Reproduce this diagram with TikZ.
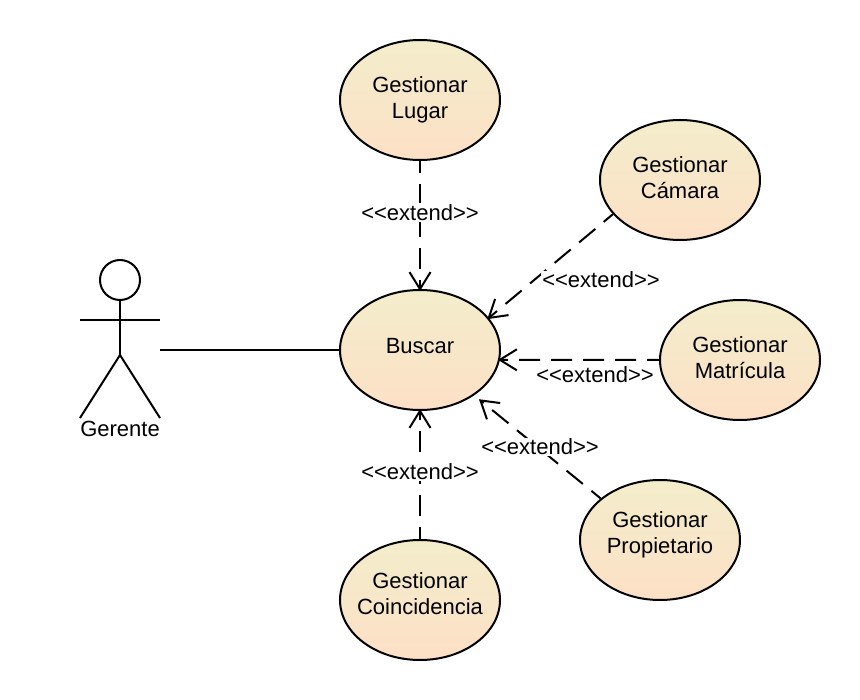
\documentclass[tikz,border=0pt]{standalone}
\usepackage{fontspec}
\setmainfont{Liberation Sans}
\usetikzlibrary{shapes.geometric,arrows.meta}
\tikzset{
	usecase/.style={ellipse, draw=black, line width=2pt, top color=caseTop, bottom color=caseBottom, minimum width=160pt, minimum height=120pt, inner xsep=-20pt, inner ysep=0pt, align=center, text depth=5pt, font=\fontsize{22}{26}\selectfont},
	actorline/.style={black, line width=2pt},
	extendline/.style={black, line width=2pt, dash pattern=on 21pt off 11pt, dash phase=9pt, shorten >=-2pt, -{Straight Barb[length=17pt,width=21pt,line width=2pt]}},
	extendlabel/.style={fill=white, inner sep=1pt, font=\fontsize{22}{24}\selectfont},
}
\definecolor{caseTop}{HTML}{F3EDCB}
\definecolor{caseBottom}{HTML}{FDE0C6}
\begin{document}
\begin{tikzpicture}[x=1pt, y=-1pt]
	  \useasboundingbox (0,0) rectangle (860,700);
	  % actor
	  \node[circle, draw=black, line width=2pt, minimum size=40pt, inner sep=0pt] (head) at (120,280) {};
	  \coordinate (hip) at (120,355);
	  \coordinate (armL) at (80,320);
	  \coordinate (armR) at (160,320);
	  \coordinate (legL) at (80,418);
	  \coordinate (legR) at (160,418);
	  \coordinate (actorEnd) at (160,350);
	  \draw[actorline] (head) -- (hip);
	  \draw[actorline] (armL) -- (armR);
	  \draw[actorline] (legL) -- (hip) -- (legR);
	  \node[font=\fontsize{22}{24}\selectfont, inner sep=0pt] (gerente) at (120,429) {Gerente};
	  % use cases
	  \node[usecase, text depth=9pt] (buscar) at (420,350) {Buscar};
	  \node[usecase] (lugar) at (420,100) {Gestionar\\Lugar};
	  \node[usecase] (camara) at (680,180) {Gestionar\\Cámara};
	  \node[usecase] (matricula) at (740,360) {Gestionar\\Matrícula};
	  \node[usecase, text depth=14pt] (propietario) at (660,540) {Gestionar\\Propietario};
	  \node[usecase, text depth=12pt] (coincidencia) at (420,600) {Gestionar\\Coincidencia};
	  \coordinate (propEnd) at (480.5,400.5);
	  % connectors
	  \draw[actorline] (actorEnd) -- (buscar);
	  \draw[extendline] (lugar) -- (buscar);
	  \draw[extendline] (camara.207) -- (buscar.25);
	  \draw[extendline] (matricula.180) -- (buscar.353);
	  \draw[extendline] (propietario.145) -- (propEnd);
	  \draw[extendline] (coincidencia) -- (buscar);
	  % labels
	  \node[extendlabel] (labelLugar) at (420,212.5) {<{}<extend>{}>};
	  \node[extendlabel] (labelCamara) at (601,280) {<{}<extend>{}>};
	  \node[extendlabel] (labelMatricula) at (595,375) {<{}<extend>{}>};
	  \node[extendlabel] (labelPropietario) at (540,447) {<{}<extend>{}>};
	  \node[extendlabel] (labelCoincidencia) at (420,472) {<{}<extend>{}>};
	\end{tikzpicture}
\end{document}
